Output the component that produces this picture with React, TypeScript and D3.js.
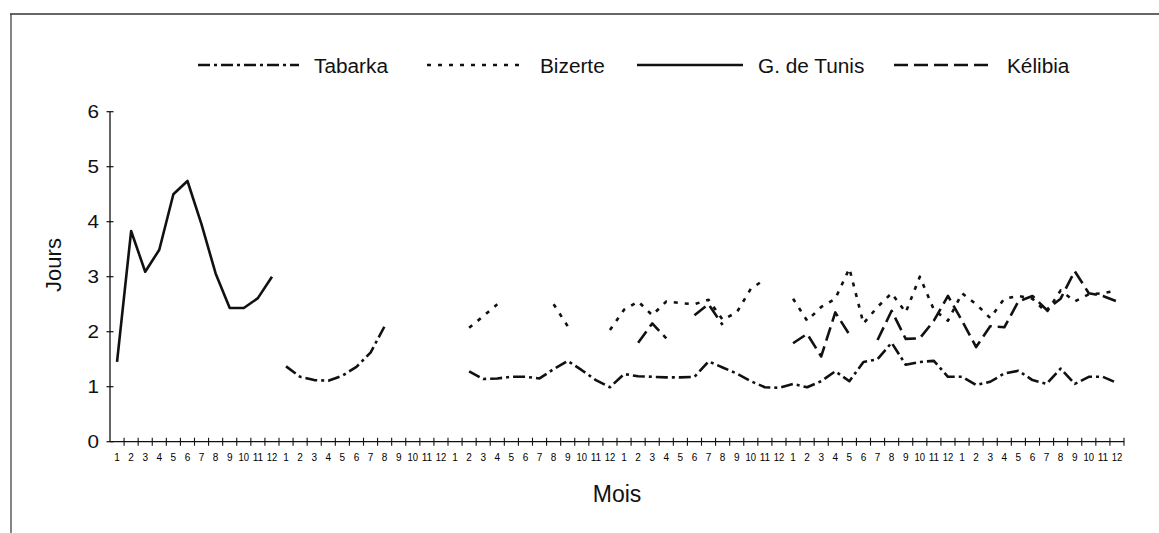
import React from "react";
import * as d3 from "d3";

const _ = null;

// month labels repeated for the 6 years shown on the axis
const monthLabels = ["1", "2", "3", "4", "5", "6", "7", "8", "9", "10", "11", "12"];
const yearCount = 6;
const categories = d3.range(yearCount).flatMap((yr) => monthLabels.map((m) => `${yr + 1}-${m}`));

const yTicks = [0, 1, 2, 3, 4, 5, 6];

// one value per month, 6 years in a row (null = no data)
const tabarka = [
  _, _, _, _, _, _, _, _, _, _, _, _,
  1.37, 1.18, 1.12, 1.11, 1.2, 1.36, 1.62, 2.1, _, _, _, _,
  _, 1.28, 1.14, 1.15, 1.18, 1.18, 1.15, 1.32, 1.47, 1.3, 1.12, 0.99,
  1.23, 1.19, 1.18, 1.17, 1.17, 1.18, 1.46, 1.35, 1.24, 1.1, 0.99, 0.98,
  1.05, 0.99, 1.1, 1.28, 1.1, 1.45, 1.5, 1.8, 1.4, 1.45, 1.47, 1.18,
  1.18, 1.03, 1.09, 1.24, 1.29, 1.12, 1.05, 1.33, 1.05, 1.18, 1.18, 1.07,
];

const bizerte = [
  _, _, _, _, _, _, _, _, _, _, _, _,
  _, _, _, _, _, _, _, _, _, _, _, _,
  _, 2.07, 2.28, 2.5, _, _, _, 2.5, 2.1, _, _, 2.03,
  2.4, 2.55, 2.3, 2.55, 2.52, 2.5, 2.58, 2.22, 2.35, 2.78, 2.95, _,
  2.6, 2.2, 2.45, 2.6, 3.15, 2.15, 2.45, 2.7, 2.35, 3.0, 2.4, 2.2,
  2.7, 2.5, 2.25, 2.6, 2.65, 2.6, 2.35, 2.75, 2.55, 2.68, 2.7, 2.75,
];

const tunis = [
  1.45, 3.83, 3.09, 3.49, 4.5, 4.74, 3.95, 3.06, 2.43, 2.43, 2.61, 3.0,
  _, _, _, _, _, _, _, _, _, _, _, _,
  _, _, _, _, _, _, _, _, _, _, _, _,
  _, _, _, _, _, _, _, _, _, _, _, _,
  _, _, _, _, _, _, _, _, _, _, _, _,
  _, _, _, _, _, _, _, _, _, _, _, _,
];

const kelibia = [
  _, _, _, _, _, _, _, _, _, _, _, _,
  _, _, _, _, _, _, _, _, _, _, _, _,
  _, _, _, _, _, _, _, _, _, _, _, _,
  _, 1.8, 2.15, 1.88, _, 2.3, 2.5, 2.12, _, _, _, _,
  1.79, 1.96, 1.55, 2.35, 1.95, _, 1.85, 2.38, 1.87, 1.88, 2.2, 2.65,
  2.2, 1.72, 2.1, 2.08, 2.55, 2.65, 2.4, 2.6, 3.1, 2.7, 2.65, 2.55,
];

const seriesNames = ["Tabarka", "Bizerte", "G. de Tunis", "Kélibia"];
const seriesData = [tabarka, bizerte, tunis, kelibia];
const dashes = ["12,4,3,4", "4,7", "", "14,6"];

const W = 1159, H = 533;
const font = "'Liberation Sans', Arial, sans-serif";

function Txt({ x, y, size, anchor = "start", children, rotate = 0, sx = 1 }: any) {
  return (
    <text
      transform={`translate(${x},${y}) scale(${sx},1) rotate(${rotate})`}
      fontSize={size}
      fontFamily={font}
      textAnchor={anchor}
      fill="#111"
    >
      {children}
    </text>
  );
}

export default function App() {
  const x = d3.scaleBand().domain(categories).range([110, 1124]).padding(0);
  const y = d3.scaleLinear().domain([0, 6]).range([441.7, 111.7]);
  const xc = (i: number) => (x(categories[i]) as number) + x.bandwidth() / 2;

  const line = d3
    .line<number | null>()
    .defined((v) => v != null)
    .x((_v, i) => xc(i))
    .y((v) => y(v as number));

  const legendLines = [[198, 299], [427, 521], [637, 743], [894, 990]];
  const legendText = [314, 540, 758, 1007];

  return (
    <svg width={W} height={H} style={{ position: "absolute", left: 0, top: 0, background: "#fff" }}>
      <rect width={W} height={H} fill="#fff" />
      {/* frame */}
      <path d={`M10,14 H${W}`} stroke="#333" strokeWidth={1.5} fill="none" />
      <path d={`M11,14 V${H}`} stroke="#333" strokeWidth={1.2} fill="none" />

      {/* legend */}
      {seriesNames.map((name, k) => (
        <g key={name}>
          <line
            x1={legendLines[k][0]} x2={legendLines[k][1]} y1={65} y2={65}
            stroke="#111" strokeWidth={2.6} strokeDasharray={dashes[k] || undefined}
          />
          <Txt x={legendText[k]} y={73} size={20} sx={1.04}>{name}</Txt>
        </g>
      ))}

      {/* y axis */}
      <line x1={110} x2={110} y1={y(0)} y2={y(6)} stroke="#111" strokeWidth={1.3} />
      {yTicks.map((t) => (
        <g key={t}>
          <line x1={106.5} x2={113.5} y1={y(t)} y2={y(t)} stroke="#111" strokeWidth={1.2} />
          <Txt x={99} y={y(t) + 6.5} size={18} anchor="end" sx={1.15}>{t}</Txt>
        </g>
      ))}

      {/* x axis */}
      <line x1={110} x2={1124} y1={y(0)} y2={y(0)} stroke="#111" strokeWidth={1.3} />
      {categories.map((c, i) => (
        <g key={c}>
          <line
            x1={(x(c) as number) + x.bandwidth()} x2={(x(c) as number) + x.bandwidth()}
            y1={y(0) - 4} y2={y(0) + 4} stroke="#111" strokeWidth={1.1}
          />
          <text
            x={xc(i)} y={461} fontSize={10} fontFamily={font} textAnchor="middle" fill="#000"
            {...(monthLabels[i % 12].length > 1 ? { textLength: 10.5, lengthAdjust: "spacingAndGlyphs" } : {})}
          >
            {monthLabels[i % 12]}
          </text>
        </g>
      ))}

      {/* series */}
      {seriesData.map((d, k) => (
        <path
          key={seriesNames[k]}
          d={line(d) || ""}
          fill="none"
          stroke="#111"
          strokeWidth={2.6}
          strokeLinejoin="round"
          strokeDasharray={dashes[k] || undefined}
        />
      ))}

      {/* axis titles */}
      <Txt x={617} y={502} size={23} anchor="middle">Mois</Txt>
      <Txt x={61} y={265} size={22} anchor="middle" rotate={-90}>Jours</Txt>
    </svg>
  );
}
